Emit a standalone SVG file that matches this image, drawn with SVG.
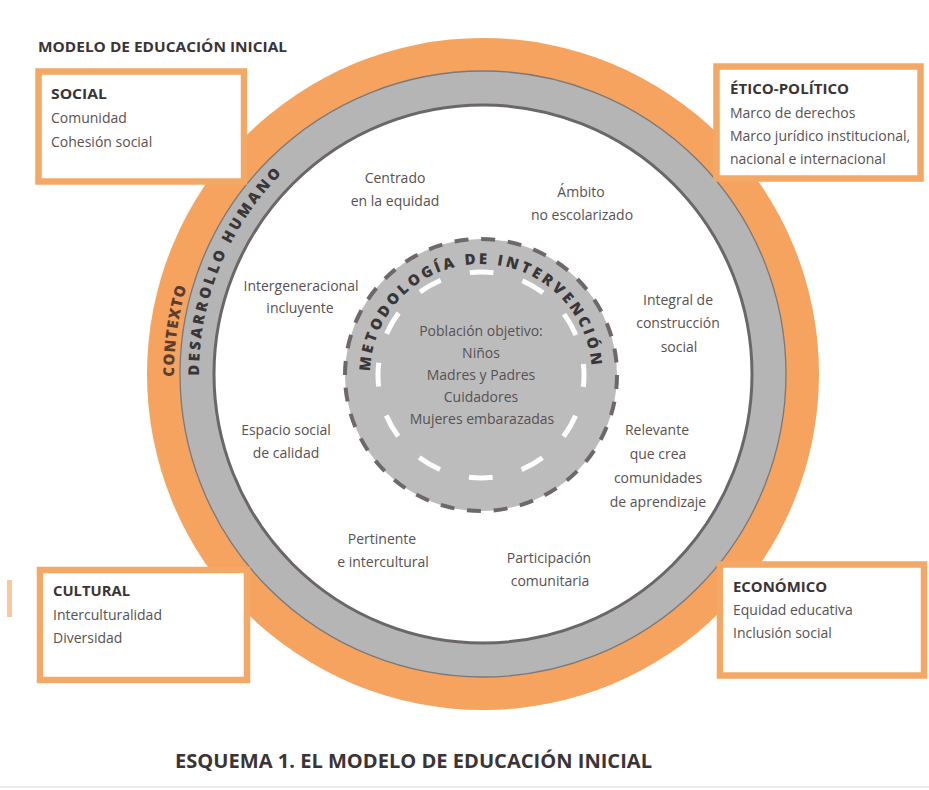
<svg xmlns="http://www.w3.org/2000/svg" width="929" height="790" viewBox="0 0 929 790">
  <style>
    text { font-family: "Open Sans", "Noto Sans", sans-serif; }
    .hd { font-weight: 700; font-size: 15px; fill: #3b3436; }
    .bd { font-size: 14px; fill: #575153; }
    .lb { font-size: 14px; fill: #575153; text-anchor: middle; }
    .box { fill: #ffffff; stroke: #f4a865; stroke-width: 6.5; }
    .arc { font-weight: 800; font-size: 15px; text-anchor: middle; }
  </style>
  <defs>
    <path id="pCtx" d="M 483 683 A 309 309 0 1 1 483 65 A 309 309 0 1 1 483 683"/>
    <path id="pDes" d="M 483 658 A 284 284 0 1 1 483 90 A 284 284 0 1 1 483 658"/>
    <path id="pMet" d="M 481 486 A 111 111 0 1 1 481 264 A 111 111 0 1 1 481 486"/>
  </defs>
  <rect width="929" height="790" fill="#ffffff"/>
  <rect x="7" y="580" width="5" height="37" fill="#f7c89c"/>
  <line x1="0" y1="787" x2="929" y2="787" stroke="#e4e4e4" stroke-width="1.5"/>

  <text x="38" y="52" class="hd" textLength="249" lengthAdjust="spacingAndGlyphs">MODELO DE EDUCACIÓN INICIAL</text>

  <g id="contexto">
    <circle cx="483" cy="374" r="336" fill="#f5a35f"/>
    <text class="arc" fill="#5a3e30" letter-spacing="1.1"><textPath href="#pCtx" startOffset="528.5" font-weight="800">CONTEXTO</textPath></text>
  </g>

  <g id="desarrollo-humano">
    <circle cx="483" cy="374" r="303" fill="#b5b5b5" stroke="#7c7878" stroke-width="1.3"/>
    <circle cx="483" cy="374" r="269" fill="#ffffff" stroke="#6b6667" stroke-width="3"/>
    <text class="arc" fill="#3a3637" letter-spacing="2.9"><textPath href="#pDes" startOffset="557.6" font-weight="800">DESARROLLO HUMANO</textPath></text>
  </g>

  <g id="metodologia">
    <circle cx="481" cy="375" r="136" fill="#bcbcbc" stroke="#6e6869" stroke-width="4" stroke-dasharray="14 12.7"/>
    <circle cx="481" cy="375" r="103" fill="none" stroke="#ffffff" stroke-width="5" stroke-dasharray="24 29.93" stroke-dashoffset="12"/>
    <text class="arc" fill="#3a3637" letter-spacing="3"><textPath href="#pMet" startOffset="346.8" font-weight="800">METODOLOGÍA DE INTERVENCIÓN</textPath></text>
    <text class="lb" x="481" y="336">Población objetivo:</text>
    <text class="lb" x="481" y="358">Niños</text>
    <text class="lb" x="481" y="380">Madres y Padres</text>
    <text class="lb" x="481" y="402">Cuidadores</text>
    <text class="lb" x="482" y="424">Mujeres embarazadas</text>
  </g>

  <g id="labels">
    <g id="l-centrado"><text class="lb" x="395" y="183">Centrado</text><text class="lb" x="395" y="206">en la equidad</text></g>
    <g id="l-ambito"><text class="lb" x="581" y="197">Ámbito</text><text class="lb" x="582" y="220">no escolarizado</text></g>
    <g id="l-intergen"><text class="lb" x="301" y="291">Intergeneracional</text><text class="lb" x="300" y="313">incluyente</text></g>
    <g id="l-integral"><text class="lb" x="678" y="305">Integral de</text><text class="lb" x="678" y="328">construcción</text><text class="lb" x="679" y="352">social</text></g>
    <g id="l-espacio"><text class="lb" x="286" y="435">Espacio social</text><text class="lb" x="286" y="458">de calidad</text></g>
    <g id="l-relevante"><text class="lb" x="657" y="435">Relevante</text><text class="lb" x="658" y="459">que crea</text><text class="lb" x="658" y="483">comunidades</text><text class="lb" x="658" y="507">de aprendizaje</text></g>
    <g id="l-pertinente"><text class="lb" x="382" y="544">Pertinente</text><text class="lb" x="383" y="567">e intercultural</text></g>
    <g id="l-participacion"><text class="lb" x="549" y="563">Participación</text><text class="lb" x="550" y="586">comunitaria</text></g>
  </g>

  <g id="box-social">
    <rect class="box" x="38.5" y="71.5" width="205.5" height="110"/>
    <text class="hd" x="51" y="99" textLength="56" lengthAdjust="spacingAndGlyphs">SOCIAL</text>
    <text class="bd" x="51" y="123">Comunidad</text>
    <text class="bd" x="51" y="147">Cohesión social</text>
  </g>

  <g id="box-etico">
    <rect class="box" x="716.5" y="66.5" width="204" height="112"/>
    <text class="hd" x="730" y="94" textLength="119" lengthAdjust="spacingAndGlyphs">ÉTICO-POLÍTICO</text>
    <text class="bd" x="730" y="118">Marco de derechos</text>
    <text class="bd" x="730" y="141">Marco jurídico institucional,</text>
    <text class="bd" x="730" y="164">nacional e internacional</text>
  </g>

  <g id="box-cultural">
    <rect class="box" x="40" y="570" width="207" height="110"/>
    <text class="hd" x="53" y="596" textLength="77" lengthAdjust="spacingAndGlyphs">CULTURAL</text>
    <text class="bd" x="53" y="620">Interculturalidad</text>
    <text class="bd" x="53" y="643">Diversidad</text>
  </g>

  <g id="box-economico">
    <rect class="box" x="720" y="564.5" width="204" height="111"/>
    <text class="hd" x="733" y="592" textLength="94" lengthAdjust="spacingAndGlyphs">ECONÓMICO</text>
    <text class="bd" x="733" y="615">Equidad educativa</text>
    <text class="bd" x="733" y="638">Inclusión social</text>
  </g>

  <text x="175" y="768" font-weight="700" font-size="20" fill="#3b3436" textLength="477" lengthAdjust="spacingAndGlyphs">ESQUEMA 1. EL MODELO DE EDUCACIÓN INICIAL</text>
</svg>
